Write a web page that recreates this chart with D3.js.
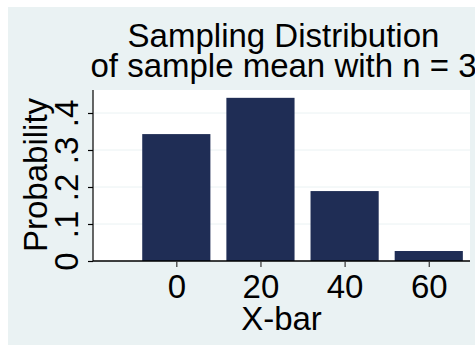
<!DOCTYPE html>
<html>
<head>
<meta charset="utf-8">
<script src="https://cdn.jsdelivr.net/npm/d3@7"></script>
<style>
  body { margin: 0; background: #fff; }
  svg text { font-family: "Liberation Sans", Arial, sans-serif; fill: #000; }
</style>
</head>
<body>
<svg id="chart" width="475" height="345"></svg>
<script>
// Sampling distribution of the sample mean, n = 3
const xbar = [0, 20, 40, 60];
const prob = [0.343, 0.441, 0.189, 0.027];
const xTicks = [0, 20, 40, 60];
const yTicks = [0, 0.1, 0.2, 0.3, 0.4];

const svg = d3.select('#chart');
const width = +svg.attr('width');
const height = +svg.attr('height');

// plot region
const plot = { left: 93, right: 470, top: 90, bottom: 261 };

// graph background
svg.append('rect')
  .attr('x', 8).attr('y', 7)
  .attr('width', width - 8).attr('height', height - 7)
  .attr('fill', '#eaf2f3');

svg.append('rect')
  .attr('x', plot.left).attr('y', plot.top)
  .attr('width', plot.right - plot.left).attr('height', plot.bottom - plot.top)
  .attr('fill', '#fff');

const x = d3.scaleLinear().domain([-19.8, 69.8]).range([plot.left, plot.right]);
const y = d3.scaleLinear().domain([0, 0.4]).range([plot.bottom, plot.bottom - 148]);

// gridlines
svg.append('g')
  .selectAll('line')
  .data(yTicks.slice(1))
  .join('line')
  .attr('x1', plot.left).attr('x2', plot.right)
  .attr('y1', d => y(d)).attr('y2', d => y(d))
  .attr('stroke', '#eaf2f3')
  .attr('stroke-width', 1);

// bars
const bw = 16.2;
svg.append('g')
  .selectAll('rect')
  .data(xbar)
  .join('rect')
  .attr('x', d => x(d - bw / 2))
  .attr('width', d => x(d + bw / 2) - x(d - bw / 2))
  .attr('y', (d, i) => y(prob[i]))
  .attr('height', (d, i) => y(0) - y(prob[i]))
  .attr('fill', '#1f2d55');

// y axis
const yAxis = d3.axisLeft(y)
  .tickValues(yTicks)
  .tickSize(5)
  .tickPadding(0)
  .tickFormat(d => d === 0 ? '0' : d3.format('.1f')(d).replace(/^0/, ''));

const gy = svg.append('g')
  .attr('transform', `translate(${plot.left},0)`)
  .call(yAxis);
gy.select('.domain').attr('d', `M0,${plot.top}V${plot.bottom}`).attr('stroke', '#333').attr('stroke-width', 1.5);
gy.selectAll('.tick line').attr('stroke', '#000').attr('stroke-width', 1.2);
gy.selectAll('.tick text')
  .attr('font-size', 33)
  .attr('text-anchor', 'middle')
  .attr('x', 0).attr('dy', 0)
  .attr('transform', 'translate(-15,0) rotate(-90)');

// x axis
const xAxis = d3.axisBottom(x)
  .tickValues(xTicks)
  .tickSize(6)
  .tickPadding(4)
  .tickFormat(d3.format('d'));

const gx = svg.append('g')
  .attr('transform', `translate(0,${plot.bottom})`)
  .call(xAxis);
gx.select('.domain').attr('d', `M${plot.left},0H${plot.right}`).attr('stroke', '#000').attr('stroke-width', 1.5);
gx.selectAll('.tick line').attr('stroke', '#333').attr('stroke-width', 1.2);
gx.selectAll('.tick text')
  .attr('font-size', 33)
  .attr('dy', 0)
  .attr('y', 37);

// axis titles
svg.append('text')
  .attr('x', (plot.left + plot.right) / 2)
  .attr('y', 330)
  .attr('text-anchor', 'middle')
  .attr('font-size', 33)
  .text('X-bar');

svg.append('text')
  .attr('transform', `translate(47,${(plot.top + plot.bottom) / 2 - 0.5}) rotate(-90)`)
  .attr('text-anchor', 'middle')
  .attr('font-size', 33)
  .text('Probability');

// title
const title = ['Sampling Distribution', 'of sample mean with n = 3'];
svg.append('g')
  .selectAll('text')
  .data(title)
  .join('text')
  .attr('x', 283.5)
  .attr('y', (d, i) => 47 + i * 30)
  .attr('text-anchor', 'middle')
  .attr('font-size', 33)
  .text(d => d);
</script>
</body>
</html>
